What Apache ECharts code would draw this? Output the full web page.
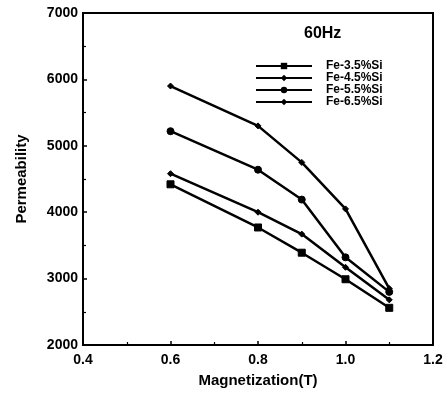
<!DOCTYPE html>
<html><head><meta charset="utf-8">
<script src="https://cdn.jsdelivr.net/npm/echarts@6/dist/echarts.min.js"></script>
<style>html,body{margin:0;padding:0;background:#fff}#c{width:448px;height:396px}</style>
</head><body><div id="c"></div>
<script>
var magnetization = [0.6, 0.8, 0.9, 1.0, 1.1];
var seriesNames = ['Fe-3.5%Si', 'Fe-4.5%Si', 'Fe-5.5%Si', 'Fe-6.5%Si'];
var fe35 = [4420, 3770, 3390, 2990, 2560];
var fe45 = [4580, 4000, 3670, 3170, 2680];
var fe55 = [5220, 4640, 4190, 3320, 2800];
var fe65 = [5900, 5300, 4750, 4050, 2850];
var yTicks = [2000, 3000, 4000, 5000, 6000, 7000];
var xTicks = [0.4, 0.6, 0.8, 1.0, 1.2];

var values = [fe35, fe45, fe55, fe65];
var symbols = ['rect', 'diamond', 'circle', 'diamond'];
var sizes = [7, 6, 7, 6];
var font = 'Liberation Sans, Arial, sans-serif';

function pairs(v){ return magnetization.map(function(x,i){ return [x, v[i]]; }); }

var chart = echarts.init(document.getElementById('c'), null, {renderer:'canvas'});
chart.setOption({
  animation: false,
  backgroundColor: '#fff',
  title: {
    text: '60Hz', left: 299, top: 21,
    textStyle: {fontFamily: font, fontWeight: 'bold', fontSize: 16, color: '#000'}
  },
  legend: {
    orient: 'vertical', left: 250, top: 55,
    itemWidth: 56, itemHeight: 8, itemGap: 0,
    data: seriesNames,
    textStyle: {fontFamily: font, fontWeight: 'bold', fontSize: 12, color: '#000', padding: [0,0,0,9]}
  },
  grid: {left: 83, right: 15, top: 13, bottom: 51, show: true, borderColor: '#000', borderWidth: 2},
  xAxis: {
    type: 'value', min: 0.4, max: 1.2, interval: 0.2,
    name: 'Magnetization(T)', nameLocation: 'middle', nameGap: 28,
    nameTextStyle: {fontFamily: font, fontWeight: 'bold', fontSize: 15, color: '#000'},
    axisLine: {show: true, lineStyle: {color: '#000', width: 2}},
    axisTick: {show: true, inside: true, length: 4, lineStyle: {color: '#000', width: 1.5}},
    minorTick: {show: true, splitNumber: 2, length: 3, lineStyle: {color: '#000', width: 1.2}},
    splitLine: {show: false},
    axisLabel: {fontFamily: font, fontWeight: 'bold', fontSize: 14, color: '#000', margin: 8,
      formatter: function(v){ return v.toFixed(1); }}
  },
  yAxis: {
    type: 'value', min: 2000, max: 7000, interval: 1000,
    name: 'Permeability', nameLocation: 'middle', nameGap: 54, nameRotate: 90,
    nameTextStyle: {fontFamily: font, fontWeight: 'bold', fontSize: 15, color: '#000'},
    axisLine: {show: true, lineStyle: {color: '#000', width: 2}},
    axisTick: {show: true, inside: true, length: 4, lineStyle: {color: '#000', width: 1.5}},
    minorTick: {show: true, splitNumber: 2, length: 3, lineStyle: {color: '#000', width: 1.2}},
    splitLine: {show: false},
    axisLabel: {fontFamily: font, fontWeight: 'bold', fontSize: 14, color: '#000', margin: 5,
      formatter: function(v){ return String(v); }}
  },
  series: seriesNames.map(function(n, i){
    return {
      name: n, type: 'line', data: pairs(values[i]),
      symbol: symbols[i], symbolSize: sizes[i], showSymbol: true,
      lineStyle: {color: '#000', width: 2.5},
      itemStyle: {color: '#000', borderColor: '#000'}
    };
  })
});
</script></body></html>
